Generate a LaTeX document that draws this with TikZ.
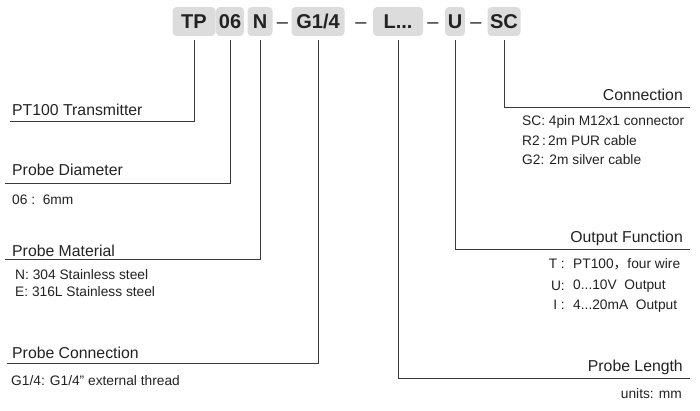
\documentclass[tikz,border=0pt]{standalone}
\usepackage{fontspec}
\setmainfont{Liberation Sans}
\newfontfamily\cjk{Noto Sans CJK SC}
\usetikzlibrary{positioning}
\definecolor{boxgray}{HTML}{DCDCDC}
\definecolor{ink}{HTML}{222222}
\definecolor{wire}{HTML}{3A3A3A}

\begin{document}
\begin{tikzpicture}[x=1pt,y=-1pt,
  code/.style={fill=boxgray,rounded corners=4pt,minimum height=29pt,inner sep=0pt,
    font=\fontsize{20}{24}\selectfont\bfseries,text=ink},
  sepdash/.style={font=\fontsize{20}{24}\selectfont,text=ink,inner sep=0pt},
  head/.style={font=\fontsize{15.8}{19}\selectfont,text=ink,inner sep=0pt},
  item/.style={font=\fontsize{13.75}{16}\selectfont,text=ink,inner sep=0pt},
  leader/.style={wire,line width=1pt}]
\useasboundingbox (0,0) rectangle (700,411);
% order code
\node[code,minimum width=43pt] (tp) at (194,21.5) {TP};
\node[code,minimum width=28pt] (dia) at (230,21.5) {06};
\node[code,minimum width=25pt] (mat) at (260,21.5) {N};
\node[sepdash] (d1) at (282.5,25.5) {--};
\node[code,minimum width=53pt] (thr) at (318,21.5) {G1/4};
\node[sepdash] (d2) at (361,25.5) {--};
\node[code,minimum width=50pt] (len) at (398,21.5) {L...};
\node[sepdash] (d3) at (433,25.5) {--};
\node[code,minimum width=20pt] (out) at (455,21.5) {U};
\node[sepdash] (d4) at (476,25.5) {--};
\node[code,minimum width=33pt] (sc) at (504,21.5) {SC};
% line ends
\coordinate (tp-end) at (10,122);
\coordinate (dia-end) at (5,184);
\coordinate (mat-end) at (5,259);
\coordinate (thr-end) at (7,363);
\coordinate (sc-end) at (690,108);
\coordinate (out-end) at (690,250);
\coordinate (len-end) at (690,378);
% left side
\node[head,anchor=base west] (tp-head) at (12,116) {PT100 Transmitter};
\node[head,anchor=base west] (dia-head) at (12,176) {Probe Diameter};
\node[item,anchor=base west] (dia-a) at (12,205) {06 :\ \ 6mm};
\node[head,anchor=base west] (mat-head) at (12,256) {Probe Material};
\node[item,anchor=base west] (mat-a) at (15,279) {N: 304 Stainless steel};
\node[item,anchor=base west] (mat-b) at (15,296) {E: 316L Stainless steel};
\node[head,anchor=base west] (thr-head) at (12,358) {Probe Connection};
\node[item,anchor=base west] (thr-a) at (11,385) {G1/4: G1/4” external thread};
% right side
\node[head,anchor=base east] (sc-head) at (683,101) {Connection};
\node[item,anchor=base west] (sc-a) at (522,126) {SC: 4pin M12x1 connector};
\node[item,anchor=base west] (sc-b) at (522,146) {R2\,:\,2m PUR cable};
\node[item,anchor=base west] (sc-c) at (522,165) {G2: 2m silver cable};
\node[head,anchor=base east] (out-head) at (683,243) {Output Function};
\node[item,anchor=base east] (out-ka) at (565,269) {T :};
\node[item,anchor=base west] (out-a) at (573,269) {PT100{\cjk ，}four wire};
\node[item,anchor=base east] (out-kb) at (565,290) {U:};
\node[item,anchor=base west] (out-b) at (573,289) {0...10V\ \ Output};
\node[item,anchor=base east] (out-kc) at (565,309) {I :};
\node[item,anchor=base west] (out-c) at (573,309) {4...20mA\ \ Output};
\node[head,anchor=base east] (len-head) at (683,371) {Probe Length};
\node[item,anchor=base east] (units) at (682,398) {units: mm};
% leaders
\draw[leader] ([yshift=-4pt]tp.south) |- (tp-end);
\draw[leader] ([yshift=-4pt]dia.south) |- (dia-end);
\draw[leader] ([yshift=-4pt]mat.south) |- (mat-end);
\draw[leader] ([yshift=-4pt]thr.south) |- (thr-end);
\draw[leader] ([yshift=-4pt]len.south) |- (len-end);
\draw[leader] ([yshift=-4pt]out.south) |- (out-end);
\draw[leader] ([yshift=-4pt]sc.south) |- (sc-end);
\end{tikzpicture}
\end{document}
